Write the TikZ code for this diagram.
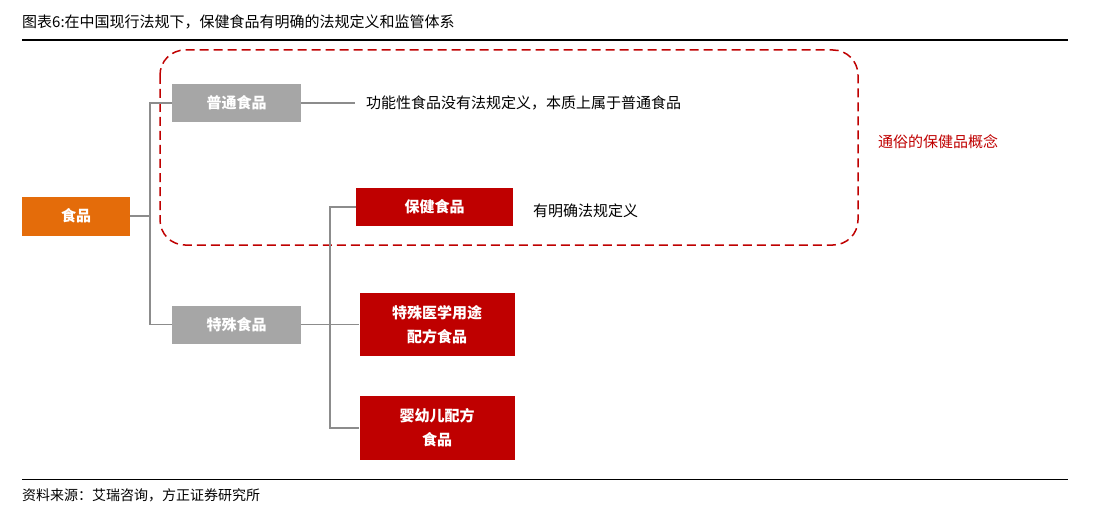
\documentclass[tikz,border=0pt]{standalone}
\usepackage{fontspec}
\setmainfont{Noto Sans CJK SC}
\definecolor{org}{HTML}{E46C0A}
\begin{document}
\begin{tikzpicture}[x=1pt,y=-1pt,
 box/.style={draw=none,minimum height=38pt,text=white,font=\bfseries\fontsize{15}{24}\selectfont,align=center,inner sep=0pt},
 gbox/.style={box,fill=black!35,minimum width=129pt},
 rbox/.style={box,fill=red!75!black,minimum width=155pt},
 ln/.style={draw=black!45,line width=1.2pt},
 lbl/.style={font=\fontsize{15}{18}\selectfont,anchor=west,inner sep=0pt}]
\useasboundingbox (0,0) rectangle (1095,516);
\node[anchor=west,inner sep=0pt,font=\fontsize{15}{18}\selectfont] (title) at (22,22) {图表6:在中国现行法规下，保健食品有明确的法规定义和监管体系};
\draw[line width=1.2pt] (22,40) -- (1068,40);
\draw[line width=1pt] (22,479) -- (1068,479);
\node[anchor=west,inner sep=0pt,font=\fontsize{14}{17}\selectfont\itshape] (src) at (22,495) {资料来源：艾瑞咨询，方正证券研究所};
\draw[red!75!black,dashed,dash pattern=on 9pt off 5pt,line width=1.5pt,rounded corners=25pt] (160,50) rectangle (858,245);
\node[lbl,text=red!75!black] (pop) at (878,142) {通俗的保健品概念};
\node[box,fill=org,minimum width=108pt,minimum height=39pt] (food) at (76,216) {食品};
\node[gbox] (pt) at (236.5,103) {普通食品};
\node[gbox] (ts) at (236.5,324.5) {特殊食品};
\node[rbox,minimum width=157pt] (bj) at (434.5,207) {保健食品};
\node[rbox,minimum height=63pt] (tsyx) at (437,324.5) {特殊医学用途\\配方食品};
\node[rbox,minimum height=64pt] (yye) at (437,428) {婴幼儿配方\\食品};
\node[lbl] (ptl) at (366,103) {功能性食品没有法规定义，本质上属于普通食品};
\node[lbl] (bjl) at (533,211) {有明确法规定义};
\coordinate (a) at (150,216);
\coordinate (b) at (330,324.5);
\draw[ln] (food.east) -- (a);
\draw[ln] (pt.west) -| (a) |- (ts.west);
\draw[ln] (pt.east) -- (ptl.west -| 355,0);
\draw[ln] (ts.east) -- (b);
\draw[ln] (bj.west) -| (b) |- (yye.west);
\draw[ln] (b) -- (tsyx.west);
\end{tikzpicture}
\end{document}
